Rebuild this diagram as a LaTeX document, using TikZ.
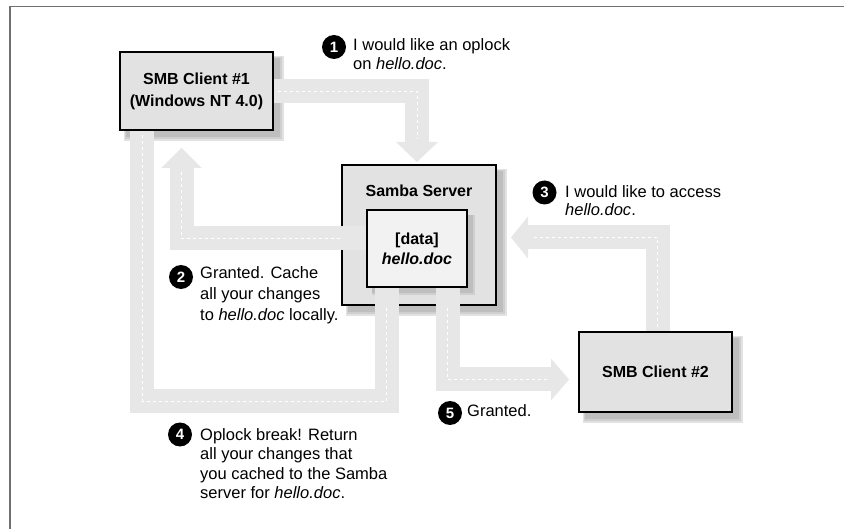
\documentclass[tikz,border=0pt]{standalone}
\usepackage{fontspec}
\setmainfont{Liberation Sans}
\usetikzlibrary{calc}
\pgfdeclarelayer{shadows}
\pgfdeclarelayer{srvlayer}
\pgfdeclarelayer{bands}
\pgfsetlayers{shadows,srvlayer,bands,main}
\definecolor{bandc}{HTML}{E7E7E7}
\definecolor{boxc}{HTML}{E2E2E2}
\definecolor{innerc}{HTML}{F2F2F2}
\definecolor{shadc}{HTML}{BEBEBE}
\definecolor{shadmc}{HTML}{CFCFCF}
\definecolor{shadlc}{HTML}{E2E2E2}
\definecolor{framec}{HTML}{707070}
\begin{document}
\begin{tikzpicture}[x=1pt,y=-1pt,
  box/.style={draw=black, line width=2pt, fill=boxc, inner sep=0, align=center,
    font=\bfseries\fontsize{16}{22}\selectfont},
  band/.style={draw=bandc, line width=24pt, line join=miter},
  bandhead/.style={fill=bandc},
  centerdash/.style={draw=white, line width=0.8pt, dash pattern=on 3pt off 3pt},
  num/.style={circle, fill=black, text=white, inner sep=0, minimum size=24pt,
    font=\bfseries\fontsize{15}{15}\selectfont},
  lbl/.style={anchor=north west, inner sep=0, align=left, font=\fontsize{16.5}{#1}\selectfont},
  lbl/.default=19]

\useasboundingbox (0,0) rectangle (844,529);

% boxes
\node[box, minimum width=153pt, minimum height=78pt] (c1) at (196.5,91)
  {SMB Client \#1\\(Windows NT 4.0)};
\begin{pgfonlayer}{srvlayer}
  \node[box, minimum width=154pt, minimum height=140pt] (srv) at (419,235) {};
\end{pgfonlayer}
\node[font=\bfseries\fontsize{16}{16}\selectfont, inner sep=0] (srvtitle) at (419,191) {Samba Server};
\node[box, fill=innerc, minimum width=100pt, minimum height=77pt,
  font=\bfseries\fontsize{16}{20}\selectfont] (data) at (417,248.5) {[data]\\\textit{hello.doc}};
\node[box, minimum width=153pt, minimum height=80pt] (c2) at (655.5,372) {SMB Client \#2};

% shadows and frame
\begin{pgfonlayer}{shadows}
  \draw[framec, line width=1.6pt] (10,529) -- (10,6.5) -- (844,6.5);
  \foreach \n in {c1,srv,c2}{
    \fill[shadlc] ($(\n.south west)+(5,10)$) rectangle ($(\n.north east)+(10,5)$);
    \fill[shadmc] ($(\n.south west)+(6,8)$) rectangle ($(\n.north east)+(8,6)$);
    \fill[shadc] ($(\n.south west)+(7,6)$) rectangle ($(\n.north east)+(6,7)$);
  }
\end{pgfonlayer}
\begin{pgfonlayer}{srvlayer}
  \fill[shadmc] ($(data.south west)+(6,7)$) rectangle ($(data.north east)+(7,6)$);
  \fill[shadc] ($(data.south west)+(6,5)$) rectangle ($(data.north east)+(5,6)$);
\end{pgfonlayer}

% flow bands
\begin{pgfonlayer}{bands}
  % 1: client 1 -> server
  \coordinate (h1) at ($(srv.north)+(-2,-22)$);
  \draw[band] (c1.east) -| (h1);
  \fill[bandhead] ($(h1)+(-21,0)$) -- ($(h1)+(21,0)$) -- ($(srv.north)+(-2,-2)$) -- cycle;
  \draw[centerdash] ($(c1.east)+(4,0)$) -| ($(h1)+(0,-3)$);
  % 2: server -> client 1
  \coordinate (s2) at ($(data.west)+(0,-10)$);
  \coordinate (h2) at ($(c1.south)+(-15,37)$);
  \draw[band] (s2) -| (h2);
  \fill[bandhead] ($(h2)+(-20,0)$) -- ($(h2)+(20,0)$) -- ($(c1.south)+(-15,17)$) -- cycle;
  \draw[centerdash] ($(s2)+(-26,0)$) -| ($(h2)+(0,3)$);
  % 4: loop server <-> client 1
  \coordinate (s4) at ($(data.south)+(-30.5,0)$);
  \coordinate (e4) at ($(c1.south)+(-54.5,0)$);
  \draw[band] (s4) -- ++(0,113) -| (e4);
  \draw[centerdash] ($(s4)+(0,20)$) -- ++(0,93) -| ($(e4)+(0,3)$);
  % 5: server -> client 2
  \coordinate (s5) at ($(data.south)+(30.5,0)$);
  \coordinate (h5) at ($(c2.west)+(-27,7.5)$);
  \draw[band] (s5) |- (h5);
  \fill[bandhead] ($(h5)+(0,-21)$) -- ($(h5)+(0,21)$) -- ($(c2.west)+(-9,7.5)$) -- cycle;
  \draw[centerdash] ($(s5)+(0,20)$) |- ($(h5)+(-3,0)$);
  % 3: client 2 -> server
  \coordinate (s3) at ($(c2.north)+(2,0)$);
  \coordinate (h3) at ($(srv.east)+(31,2.5)$);
  \draw[band] (s3) |- (h3);
  \fill[bandhead] ($(h3)+(0,-21)$) -- ($(h3)+(0,21)$) -- ($(srv.east)+(14,2.5)$) -- cycle;
  \draw[centerdash] ($(s3)+(0,-4)$) |- ($(h3)+(3,0)$);
\end{pgfonlayer}

% step labels
\node[num] (n1) at (334,47) {1};
\node[lbl=19] (t1) at (353,36.7) {\strut I would like an oplock\\on \textit{hello.doc}.};
\node[num] (n2) at (181,277) {2};
\node[lbl=21] (t2) at (200,263.3) {\strut Granted. Cache\\all your changes\\to \textit{hello.doc} locally.};
\node[num] (n3) at (544.5,192.5) {3};
\node[lbl=18] (t3) at (565,184.4) {\strut I would like to access\\\textit{hello.doc}.};
\node[num] (n4) at (180,434.5) {4};
\node[lbl=19.5] (t4) at (200,426.4) {\strut Oplock break! Return\\all your changes that\\you cached to the Samba\\server for \textit{hello.doc}.};
\node[num] (n5) at (450,413) {5};
\node[anchor=base west, inner sep=0, font=\fontsize{16.5}{19}\selectfont] (t5) at (467,417) {Granted.};
\end{tikzpicture}
\end{document}
